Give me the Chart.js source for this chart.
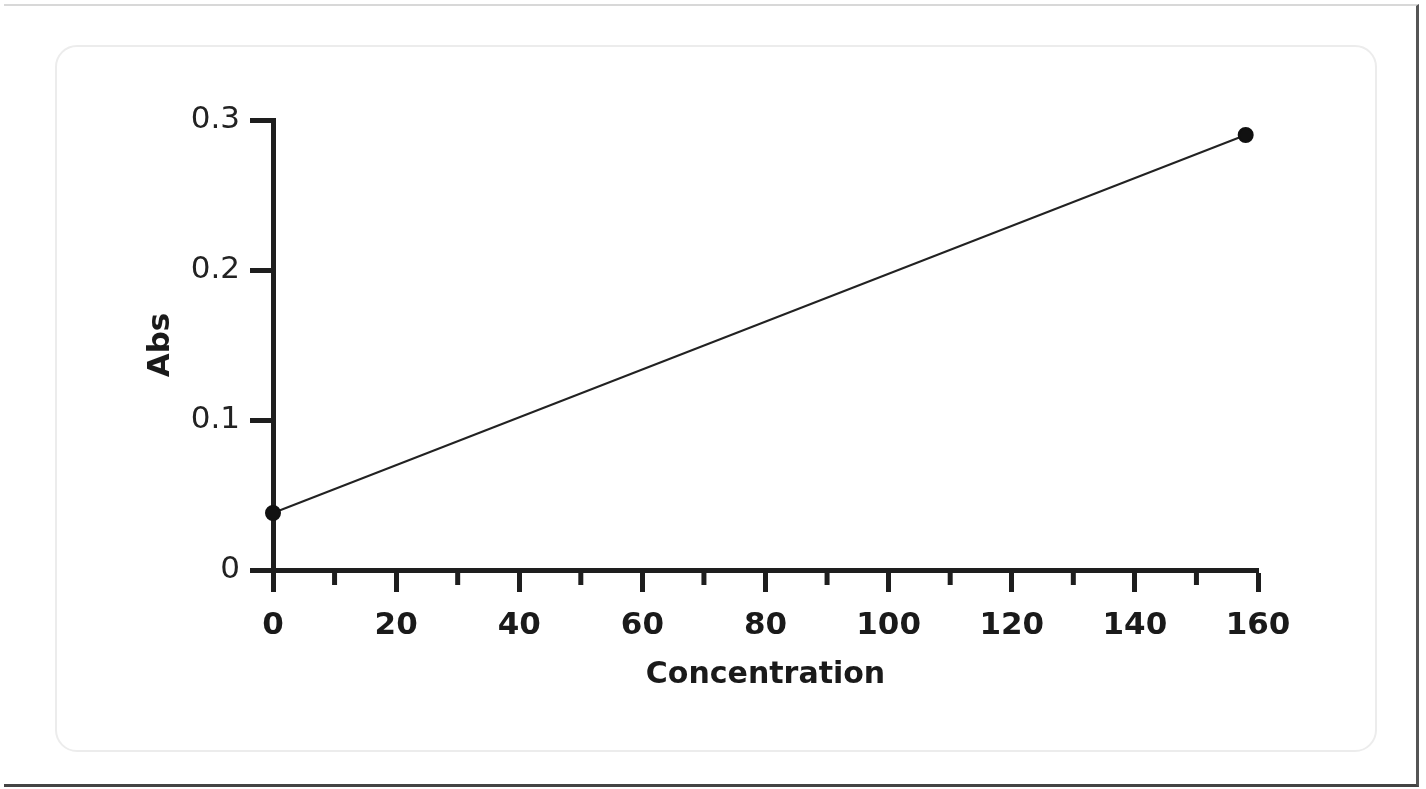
<!DOCTYPE html>
<html>
<head>
<meta charset="utf-8">
<script src="https://cdn.jsdelivr.net/npm/chart.js@4/dist/chart.umd.min.js"></script>
<style>
  html, body { margin: 0; padding: 0; background: #fff; }
  #wrap { position: relative; width: 1426px; height: 789px; }
  #frame {
    position: absolute; left: 55px; top: 45px; width: 1318px; height: 703px;
    border: 2px solid #ececec; border-radius: 22px;
  }
  #outer {
    position: absolute; left: 4px; top: 4px; width: 1412px; height: 778px;
    border-top: 2px solid #d8d8d8; border-right: 3px solid #555; border-bottom: 3px solid #444;
  }
  canvas { position: absolute; left: 0; top: 0; }
</style>
</head>
<body>
<div id="wrap">
  <div id="outer"></div>
  <div id="frame"></div>
  <canvas id="absChart" width="1426" height="789"></canvas>
</div>
<script>
// data
const concentration = [0, 158];
const absValues = [0.038, 0.29];
const xTickLabels = ['0', '20', '40', '60', '80', '100', '120', '140', '160'];
const yTickLabels = ['0', '0.1', '0.2', '0.3'];

const AXIS_COLOR = '#1e1e1e';
const FONT = '"DejaVu Sans", Verdana, sans-serif';

// short minor ticks on the x axis (10, 30, 50 ...)
const minorTicks = {
  id: 'minorTicks',
  afterDraw(chart) {
    const x = chart.scales.x;
    const ctx = chart.ctx;
    ctx.save();
    ctx.strokeStyle = AXIS_COLOR;
    ctx.lineWidth = 5;
    for (let v = 10; v < 160; v += 20) {
      const px = x.getPixelForValue(v);
      ctx.beginPath();
      ctx.moveTo(px, x.top);
      ctx.lineTo(px, x.top + 15);
      ctx.stroke();
    }
    ctx.restore();
  },
};

const config = {
  type: 'line',
  data: {
    datasets: [
      {
        label: 'Abs',
        data: concentration.map((c, i) => ({ x: c, y: absValues[i] })),
        borderColor: '#222',
        borderWidth: 2,
        pointRadius: 7,
        pointBackgroundColor: '#111',
        pointBorderColor: '#111',
        clip: false,
      },
    ],
  },
  options: {
    responsive: false,
    animation: false,
    layout: { padding: { left: 138, top: 120, right: 168, bottom: 93 } },
    plugins: { legend: { display: false }, tooltip: { enabled: false } },
    scales: {
      x: {
        type: 'linear',
        min: 0,
        max: 160,
        afterFit(scale) { scale.height = 126; },
        border: { color: AXIS_COLOR, width: 5 },
        grid: {
          drawOnChartArea: false,
          tickLength: 22,
          tickWidth: 5,
          tickColor: AXIS_COLOR,
        },
        ticks: {
          stepSize: 20,
          padding: 15,
          color: '#1a1a1a',
          font: { family: FONT, size: 31, weight: 'bold' },
          callback: (v) => xTickLabels[v / 20],
          maxRotation: 0,
        },
        title: {
          display: true,
          text: 'Concentration',
          color: '#1a1a1a',
          font: { family: FONT, size: 30, weight: 'bold' },
          padding: { top: 0, bottom: 3 },
        },
      },
      y: {
        min: 0,
        max: 0.3,
        afterFit(scale) { scale.width = 135; },
        border: { color: AXIS_COLOR, width: 5 },
        grid: {
          drawOnChartArea: false,
          tickLength: 23,
          tickWidth: 5,
          tickColor: AXIS_COLOR,
        },
        ticks: {
          stepSize: 0.1,
          padding: 10,
          color: '#222',
          font: { family: FONT, size: 31 },
          callback: (v) => yTickLabels[Math.round(v * 10)],
        },
        title: {
          display: true,
          text: 'Abs',
          color: '#1a1a1a',
          font: { family: FONT, size: 31, weight: 'bold' },
          padding: { top: 4, bottom: 0 },
        },
      },
    },
  },
  plugins: [minorTicks],
};

new Chart(document.getElementById('absChart'), config);
</script>
</body>
</html>
